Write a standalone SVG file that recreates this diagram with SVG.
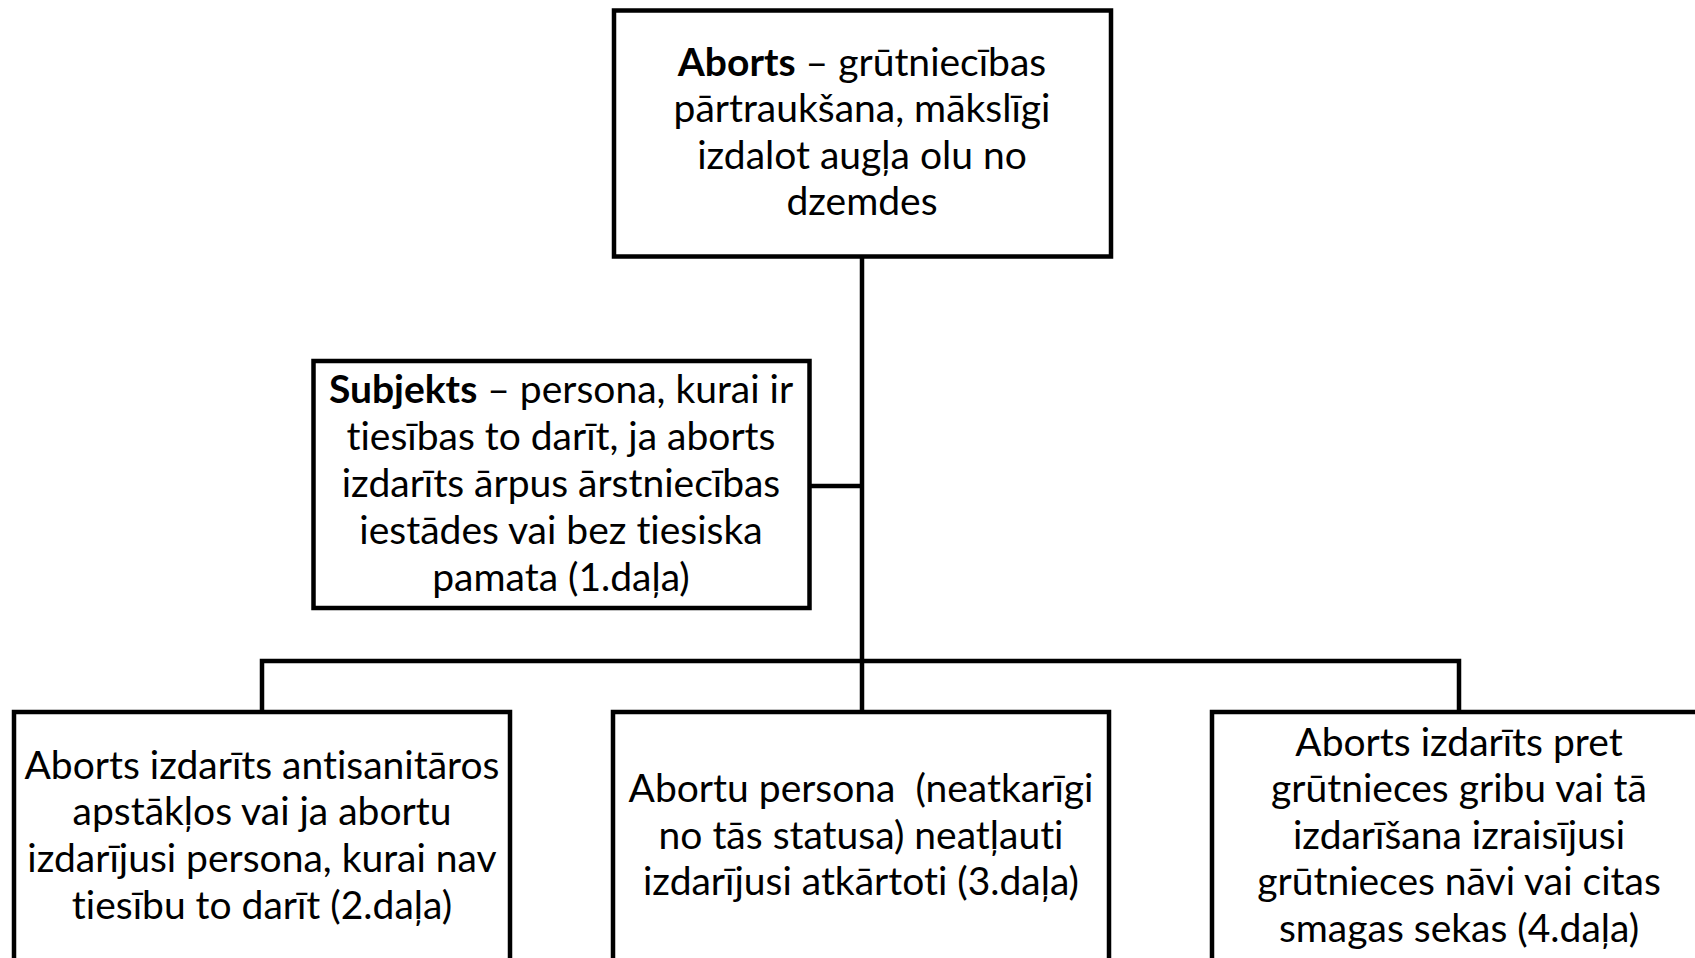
<svg xmlns="http://www.w3.org/2000/svg" width="1695" height="958" viewBox="0 0 1695 958">
<style>
.box{fill:#fff;stroke:#000;stroke-width:4.5}
.ln{fill:none;stroke:#000;stroke-width:4.5}
text{font-family:Lato,"Liberation Sans",sans-serif;font-size:39px;fill:#000;text-anchor:middle;font-variant-ligatures:none}
.b{font-weight:bold}
</style>
<rect width="1695" height="958" fill="#fff"/>
<g id="connectors">
<path class="ln" d="M862 256V712"/>
<path class="ln" d="M810 486H862"/>
<path class="ln" d="M262 712V661H1459V712"/>
</g>
<g id="n-top">
<rect class="box" x="614" y="10.5" width="497" height="246"/>
<text x="862" y="76"><tspan class="b">Aborts</tspan> – grūtniecības</text>
<text x="862" y="122">pārtraukšana, mākslīgi</text>
<text x="862" y="169">izdalot augļa olu no</text>
<text x="862" y="215">dzemdes</text>
</g>
<g id="n-subjekts">
<rect class="box" x="313.5" y="361" width="496" height="247"/>
<text x="561" y="403"><tspan class="b">Subjekts</tspan> – persona, kurai ir</text>
<text x="561" y="450">tiesības to darīt, ja aborts</text>
<text x="561" y="497">izdarīts ārpus ārstniecības</text>
<text x="561" y="544">iestādes vai bez tiesiska</text>
<text x="561" y="591">pamata (1.daļa)</text>
</g>
<g id="n-d2">
<rect class="box" x="14" y="712" width="496" height="260"/>
<text x="262" y="779">Aborts izdarīts antisanitāros</text>
<text x="262" y="825">apstākļos vai ja abortu</text>
<text x="262" y="872">izdarījusi persona, kurai nav</text>
<text x="262" y="919">tiesību to darīt (2.daļa)</text>
</g>
<g id="n-d3">
<rect class="box" x="613" y="712" width="496" height="260"/>
<text x="861" y="802">Abortu persona&#160; (neatkarīgi</text>
<text x="861" y="849">no tās statusa) neatļauti</text>
<text x="861" y="895">izdarījusi atkārtoti (3.daļa)</text>
</g>
<g id="n-d4">
<rect class="box" x="1212" y="712" width="496" height="260"/>
<text x="1459" y="756">Aborts izdarīts pret</text>
<text x="1459" y="802">grūtnieces gribu vai tā</text>
<text x="1459" y="849">izdarīšana izraisījusi</text>
<text x="1459" y="895">grūtnieces nāvi vai citas</text>
<text x="1459" y="942">smagas sekas (4.daļa)</text>
</g>
</svg>
